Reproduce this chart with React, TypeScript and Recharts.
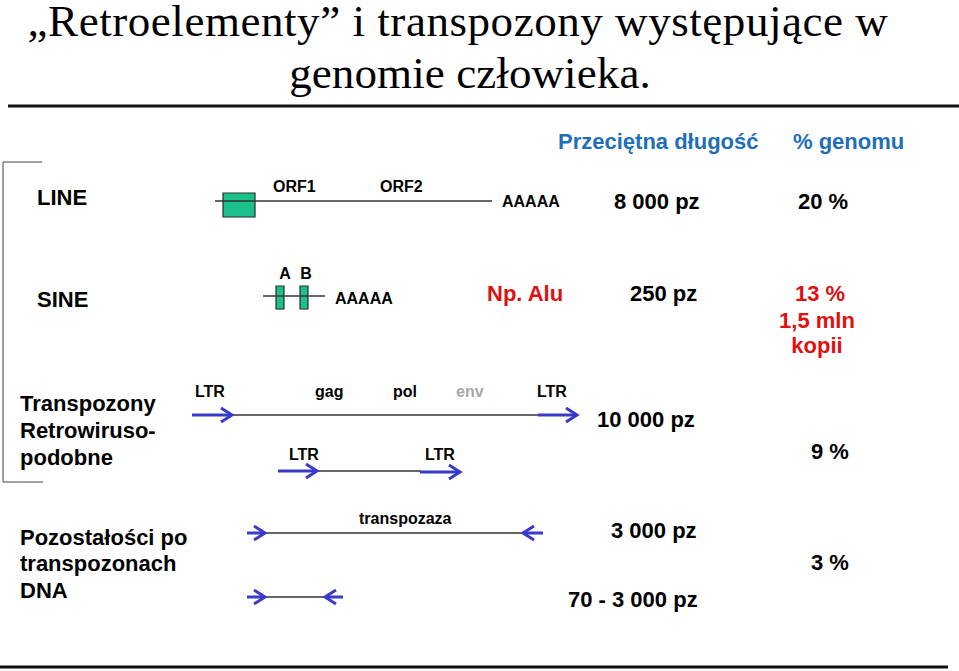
import React from 'react';
import { ComposedChart, XAxis, YAxis, ReferenceLine, ReferenceArea, Scatter } from 'recharts';

// ---- data (diagram coordinates in slide units, y grows downward) ----
const titleLines = [
  { x: 458, y: 36, text: '„Retroelementy” i transpozony występujące w' },
  { x: 470, y: 88, text: 'genomie człowieka.' },
];

const headerLabels = [
  { x: 558, y: 141, text: 'Przeciętna długość' },
  { x: 793, y: 141, text: '% genomu' },
];

const rowLabels = [
  { x: 37, y: 197, text: 'LINE' },
  { x: 37, y: 299, text: 'SINE' },
  { x: 20, y: 403, text: 'Transpozony' },
  { x: 20, y: 430, text: 'Retrowiruso-' },
  { x: 20, y: 457, text: 'podobne' },
  { x: 20, y: 537, text: 'Pozostałości po' },
  { x: 20, y: 563, text: 'transpozonach' },
  { x: 20, y: 590, text: 'DNA' },
];

const featureLabels = [
  { x: 273, y: 186, text: 'ORF1' },
  { x: 380, y: 186, text: 'ORF2' },
  { x: 502, y: 201, text: 'AAAAA' },
  { x: 335, y: 298, text: 'AAAAA' },
  { x: 195, y: 391, text: 'LTR' },
  { x: 315, y: 391, text: 'gag' },
  { x: 393, y: 391, text: 'pol' },
  { x: 537, y: 391, text: 'LTR' },
  { x: 289, y: 454, text: 'LTR' },
  { x: 425, y: 454, text: 'LTR' },
  { x: 359, y: 518, text: 'transpozaza' },
];

const mutedLabels = [{ x: 456, y: 391, text: 'env' }];

const boxLabels = [
  { x: 285, y: 273, text: 'A' },
  { x: 306, y: 273, text: 'B' },
];

const lengthLabels = [
  { x: 614, y: 201, text: '8 000 pz' },
  { x: 630, y: 293, text: '250 pz' },
  { x: 597, y: 419, text: '10 000 pz' },
  { x: 611, y: 530, text: '3 000 pz' },
  { x: 568, y: 599, text: '70 - 3 000 pz' },
];

const genomeLabels = [
  { x: 798, y: 201, text: '20 %' },
  { x: 811, y: 451, text: '9 %' },
  { x: 811, y: 562, text: '3 %' },
];

const aluLabels = [{ x: 487, y: 293, text: 'Np. Alu' }];

const aluGenomeLabels = [
  { x: 820, y: 293, text: '13 %' },
  { x: 817, y: 320, text: '1,5 mln' },
  { x: 817, y: 345, text: 'kopii' },
];

const backboneSegments = [
  [{ x: 215, y: 201 }, { x: 492, y: 201 }],
  [{ x: 263, y: 296 }, { x: 325, y: 296 }],
  [{ x: 232, y: 415 }, { x: 540, y: 415 }],
  [{ x: 317, y: 471 }, { x: 421, y: 471 }],
  [{ x: 265, y: 533 }, { x: 523, y: 533 }],
  [{ x: 265, y: 597 }, { x: 325, y: 597 }],
];

const bracketSegments = [
  [{ x: 3, y: 162 }, { x: 3, y: 482 }],
  [{ x: 3, y: 162 }, { x: 42, y: 162 }],
  [{ x: 3, y: 482 }, { x: 43, y: 482 }],
];

const ruleSegments = [
  [{ x: 8, y: 106 }, { x: 959, y: 106 }],
  [{ x: 0, y: 667 }, { x: 948, y: 667 }],
];

const arrowShafts = [
  [{ x: 192, y: 415 }, { x: 231, y: 415 }],
  [{ x: 538, y: 415 }, { x: 576, y: 415 }],
  [{ x: 278, y: 471 }, { x: 316, y: 471 }],
  [{ x: 420, y: 472 }, { x: 459, y: 472 }],
  [{ x: 247, y: 533 }, { x: 264, y: 533 }],
  [{ x: 524, y: 533 }, { x: 543, y: 533 }],
  [{ x: 247, y: 597 }, { x: 264, y: 597 }],
  [{ x: 326, y: 597 }, { x: 343, y: 597 }],
];

const arrowHeads = [
  { x: 232, y: 415, dir: 1 },
  { x: 577, y: 415, dir: 1 },
  { x: 317, y: 471, dir: 1 },
  { x: 460, y: 472, dir: 1 },
  { x: 265, y: 533, dir: 1 },
  { x: 523, y: 533, dir: -1 },
  { x: 265, y: 597, dir: 1 },
  { x: 325, y: 597, dir: -1 },
];

const elementBoxes = [
  { x1: 223, x2: 255, y1: 193, y2: 217 },
  { x1: 276, x2: 284, y1: 286, y2: 309 },
  { x1: 300, x2: 308, y1: 286, y2: 309 },
];

// ---- styles ----
const SANS = '"Liberation Sans", Arial, sans-serif';
const SERIF = '"Liberation Serif", "Times New Roman", serif';
const BLUE_ARROW = '#3a3ac8';
const TITLE_SPACING = [0.55, 0.1];

const makeText = (opts: {
  size: number;
  color: string;
  weight?: string | number;
  anchor?: 'start' | 'middle' | 'end';
  family?: string;
  baseline?: 'central' | 'auto';
  spacing?: number[];
}) => (props: any) => {
  const { cx, cy, payload, index } = props;
  const ls = opts.spacing ? opts.spacing[index ?? 0] ?? 0 : 0;
  return (
    <text
      x={cx}
      y={cy}
      fill={opts.color}
      fontSize={opts.size}
      fontWeight={opts.weight ?? 'bold'}
      fontFamily={opts.family ?? SANS}
      textAnchor={opts.anchor ?? 'start'}
      dominantBaseline={opts.baseline ?? 'central'}
      letterSpacing={ls}
    >
      {payload.text}
    </text>
  );
};

const arrowHeadShape = (props: any) => {
  const { cx, cy, payload } = props;
  const d = payload.dir;
  const len = 11;
  const half = 7;
  return (
    <path
      d={`M${cx - d * len},${cy - half} L${cx},${cy} L${cx - d * len},${cy + half}`}
      stroke={BLUE_ARROW}
      strokeWidth={3}
      fill="none"
      strokeLinejoin="miter"
      strokeLinecap="butt"
    />
  );
};

const seg = (list: any[], prefix: string, stroke: string, width: number) =>
  list.map((s, i) => (
    <ReferenceLine
      key={`${prefix}${i}`}
      segment={s}
      stroke={stroke}
      strokeWidth={width}
      ifOverflow="visible"
    />
  ));

export default function App() {
  return (
    <div style={{ position: 'absolute', left: 0, top: 0, width: 959, height: 671, background: '#fff' }}>
      <ComposedChart width={959} height={671} margin={{ top: 0, right: 0, bottom: 0, left: 0 }}>
        <XAxis type="number" dataKey="x" domain={[0, 959]} hide allowDataOverflow />
        <YAxis type="number" dataKey="y" domain={[0, 671]} reversed hide allowDataOverflow />

        {seg(ruleSegments, 'rule', '#111', 3)}
        {seg(bracketSegments, 'br', '#444', 1)}
        {seg(backboneSegments, 'bb', '#333', 1.5)}
        {seg(arrowShafts, 'as', BLUE_ARROW, 3)}

        {elementBoxes.map((b, i) => (
          <ReferenceArea
            key={`box${i}`}
            x1={b.x1}
            x2={b.x2}
            y1={b.y1}
            y2={b.y2}
            fill="#1cc08c"
            fillOpacity={1}
            stroke="#2a2a2a"
            strokeWidth={1.2}
            ifOverflow="visible"
          />
        ))}

        <Scatter data={arrowHeads} shape={arrowHeadShape} isAnimationActive={false} />
        <Scatter
          data={titleLines}
          shape={makeText({
            size: 45,
            color: '#000',
            weight: 'normal',
            anchor: 'middle',
            family: SERIF,
            baseline: 'auto',
            spacing: TITLE_SPACING,
          })}
          isAnimationActive={false}
        />
        <Scatter data={headerLabels} shape={makeText({ size: 22, color: '#1f6fb8' })} isAnimationActive={false} />
        <Scatter data={rowLabels} shape={makeText({ size: 22, color: '#000' })} isAnimationActive={false} />
        <Scatter data={featureLabels} shape={makeText({ size: 16, color: '#000' })} isAnimationActive={false} />
        <Scatter data={mutedLabels} shape={makeText({ size: 16, color: '#a8a8a8' })} isAnimationActive={false} />
        <Scatter data={boxLabels} shape={makeText({ size: 16, color: '#000', anchor: 'middle' })} isAnimationActive={false} />
        <Scatter data={lengthLabels} shape={makeText({ size: 22, color: '#000' })} isAnimationActive={false} />
        <Scatter data={genomeLabels} shape={makeText({ size: 22, color: '#000' })} isAnimationActive={false} />
        <Scatter data={aluLabels} shape={makeText({ size: 22, color: '#e01010' })} isAnimationActive={false} />
        <Scatter
          data={aluGenomeLabels}
          shape={makeText({ size: 22, color: '#e01010', anchor: 'middle' })}
          isAnimationActive={false}
        />
      </ComposedChart>
    </div>
  );
}
